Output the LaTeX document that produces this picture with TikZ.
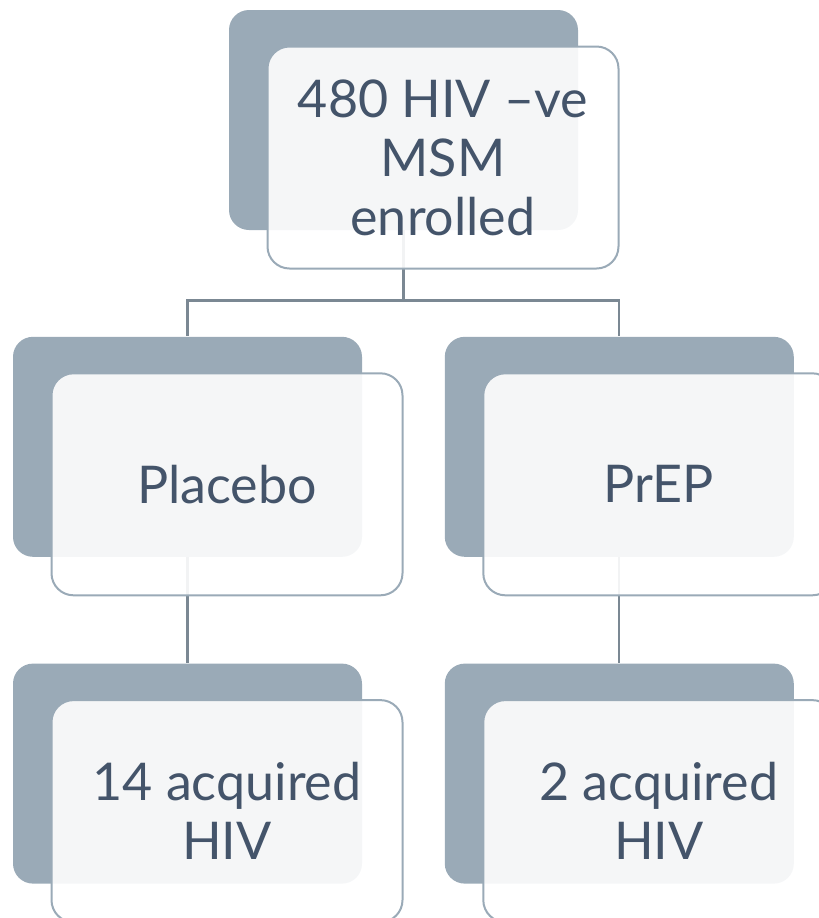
\documentclass[tikz,border=0pt]{standalone}
\usepackage{fontspec}
\setmainfont{Lato}
\usepackage{tikz}
\usetikzlibrary{positioning}

\definecolor{slate}{HTML}{9AAAB7}
\definecolor{inkslate}{HTML}{44546A}
\definecolor{linkgray}{HTML}{7B8893}

\begin{document}
\begin{tikzpicture}[ node distance = 53pt and 41pt
                     , font = \fontsize{26}{29.5}\selectfont
                     , backbox/.style = { rectangle
                                        , rounded corners = 10pt
                                        , fill = slate
                                        , minimum width = 174.5pt
                                        , minimum height = 110pt }
                     , frontbox/.style = { rectangle
                                         , rounded corners = 11pt
                                         , draw = slate
                                         , line width = 1pt
                                         , fill = white
                                         , fill opacity = 0.9
                                         , text opacity = 1
                                         , text = inkslate
                                         , align = center
                                         , minimum width = 175.5pt
                                         , minimum height = 111pt
                                         , xshift = 19.75pt
                                         , yshift = -18.75pt }
                     , link/.style = { draw = linkgray
                                     , line width = 1.1pt }
                     ]

  \useasboundingbox (0,0) rectangle (409.5pt,-459pt);
  \clip (0,0) rectangle (409.5pt,-459pt);

  %%
  %% Back panels
  %%
  \node (enrol) [backbox] at (201.75pt,-60pt) {};
  \node (placebo) [backbox, below = of enrol, xshift = -108pt] {};
  \node (prep) [backbox, right = of placebo] {};
  \node (placeboinf) [backbox, below = of placebo] {};
  \node (prepinf) [backbox, below = of prep] {};

  %%
  %% Connectors (behind the front panels)
  %%
  \draw[link] (enrol.south) -- ++(0,-35pt) -| (placebo.north);
  \draw[link] (enrol.south) -- ++(0,-35pt) -| (prep.north);
  \draw[link] (placebo.south) -- (placeboinf.north);
  \draw[link] (prep.south) -- (prepinf.north);

  %%
  %% Front panels with the text
  %%
  \node (enroltext) [frontbox] at (enrol) {480 HIV --ve\\MSM\\enrolled};
  \node (placebotext) [frontbox] at (placebo) {Placebo};
  \node (preptext) [frontbox] at (prep) {PrEP};
  \node (placeboinftext) [frontbox] at (placeboinf) {14 acquired\\HIV};
  \node (prepinftext) [frontbox] at (prepinf) {2 acquired\\HIV};
\end{tikzpicture}
\end{document}
